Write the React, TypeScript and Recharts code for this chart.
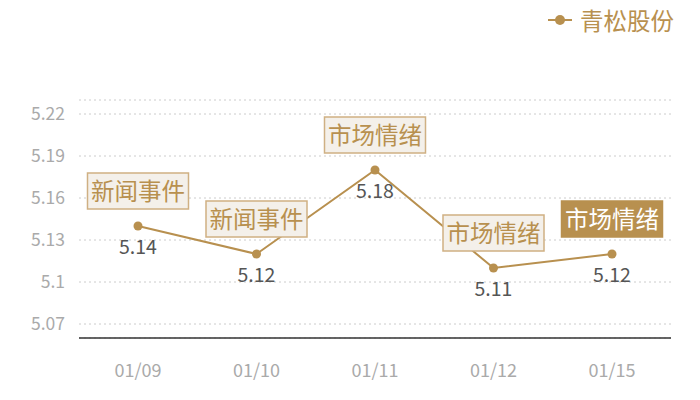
import React from 'react';
import { LineChart, Line, XAxis, YAxis, CartesianGrid, LabelList } from 'recharts';

const dates = ['01/09', '01/10', '01/11', '01/12', '01/15'];
const prices = [5.14, 5.12, 5.18, 5.11, 5.12];
const events = ['新闻事件', '新闻事件', '市场情绪', '市场情绪', '市场情绪'];
const highlighted = [false, false, false, false, true];
const yTicks = [5.06, 5.07, 5.1, 5.13, 5.16, 5.19, 5.22, 5.23];
const labelledTicks = [5.07, 5.1, 5.13, 5.16, 5.19, 5.22];

const GOLD = '#b8904f';
const FONT = '"Noto Sans CJK SC", "Noto Sans", sans-serif';

const data = dates.map((d, i) => ({
  date: d,
  price: prices[i],
  event: events[i],
  hi: highlighted[i],
}));

const fmtTick = (v: number) =>
  labelledTicks.some(t => Math.abs(t - v) < 1e-6) ? String(Number(v.toFixed(2))) : '';

const ValueLabel = (props: any) => {
  const { x, y, value } = props;
  return (
    <text x={x} y={y + 28} textAnchor="middle" fill="#555" fontSize={19.5} fontFamily={FONT}>
      {Number(value).toFixed(2)}
    </text>
  );
};

const EventLabel = (props: any) => {
  const { x, y, index } = props;
  const row = data[index];
  const w = 101;
  const h = 36;
  const cy = y - 35;
  return (
    <g>
      <rect
        x={x - w / 2}
        y={cy - h / 2}
        width={w}
        height={h}
        fill={row.hi ? GOLD : '#f4f0ea'}
        stroke={row.hi ? GOLD : '#cfb083'}
        strokeWidth={1.5}
      />
      <text
        x={x}
        y={cy + 8.5}
        textAnchor="middle"
        fill={row.hi ? '#fff' : GOLD}
        fontSize={23.5}
        fontFamily={FONT}
      >
        {row.event}
      </text>
    </g>
  );
};

export default function App() {
  return (
    <div style={{ position: 'relative', width: 700, height: 400, margin: -8, background: '#fff' }}>
      <div
        style={{
          position: 'absolute',
          top: 4,
          left: 548,
          display: 'flex',
          alignItems: 'center',
          fontFamily: FONT,
          fontSize: 23.5,
          color: GOLD,
          lineHeight: '32px',
        }}
      >
        <svg width={24} height={14} style={{ marginRight: 8 }}>
          <line x1={0} y1={7} x2={24} y2={7} stroke={GOLD} strokeWidth={2} />
          <circle cx={12} cy={7} r={5} fill={GOLD} />
        </svg>
        <span>青松股份</span>
      </div>
      <LineChart
        width={700}
        height={400}
        data={data}
        margin={{ top: 100, right: 29, bottom: 0, left: 0 }}
      >
        <CartesianGrid vertical={false} stroke="#cccccc" strokeDasharray="2 3" />
        <XAxis
          dataKey="date"
          axisLine={{ stroke: '#333', strokeWidth: 1.5 }}
          tickLine={false}
          tick={{ fill: '#aaa', fontSize: 18, fontFamily: FONT }}
          tickMargin={20}
          height={62}
          padding={{ left: 59, right: 59 }}
        />
        <YAxis
          domain={[5.06, 5.23]}
          ticks={yTicks}
          interval={0}
          tickFormatter={fmtTick}
          axisLine={false}
          tickLine={false}
          tick={{ fill: '#aaa', fontSize: 17.5, fontFamily: FONT }}
          tickMargin={8}
          width={79}
        />
        <Line
          type="linear"
          dataKey="price"
          stroke={GOLD}
          strokeWidth={2}
          dot={{ r: 4.5, fill: GOLD, stroke: GOLD, strokeWidth: 0 }}
          isAnimationActive={false}
        >
          <LabelList dataKey="price" content={ValueLabel} />
          <LabelList dataKey="event" content={EventLabel} />
        </Line>
      </LineChart>
    </div>
  );
}
